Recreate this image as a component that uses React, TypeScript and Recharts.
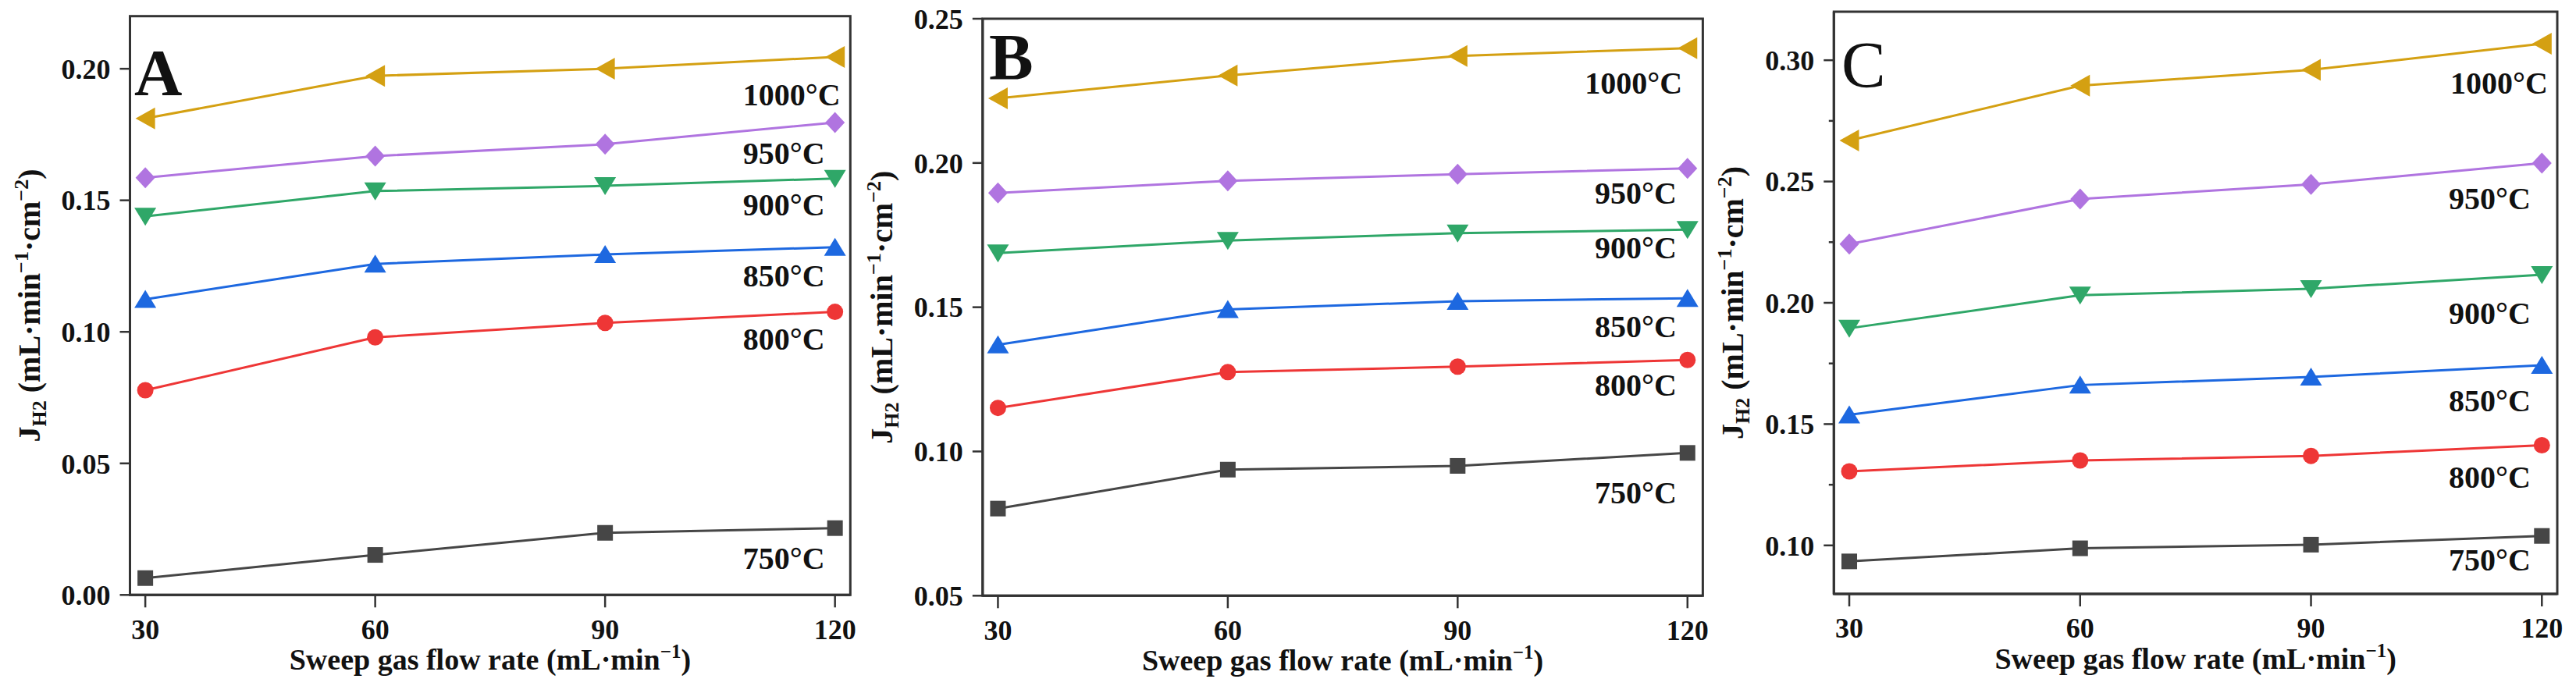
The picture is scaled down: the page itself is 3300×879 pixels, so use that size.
import React from 'react'
import { LineChart, Line, XAxis, YAxis, ReferenceDot } from 'recharts'

const flowRates = [30, 60, 90, 120]
const temperatures = ['750°C', '800°C', '850°C', '900°C', '950°C', '1000°C']

// J_H2, one row per temperature (750 -> 1000 °C)
const fluxA = [
  [0.0064, 0.0152, 0.0236, 0.0254],
  [0.0778, 0.0979, 0.1034, 0.1076],
  [0.1124, 0.1258, 0.1294, 0.1322],
  [0.1439, 0.1535, 0.1555, 0.1583],
  [0.1586, 0.1668, 0.1713, 0.1796],
  [0.1811, 0.1973, 0.2, 0.2045],
]
const fluxB = [
  [0.0802, 0.0937, 0.095, 0.0995],
  [0.1151, 0.1275, 0.1294, 0.1317],
  [0.137, 0.1492, 0.1521, 0.1531],
  [0.1688, 0.1731, 0.1757, 0.1769],
  [0.1896, 0.1938, 0.1961, 0.1981],
  [0.2224, 0.2303, 0.2371, 0.2398],
]
const fluxC = [
  [0.0934, 0.0988, 0.1003, 0.1039],
  [0.1305, 0.135, 0.1369, 0.1413],
  [0.1538, 0.1661, 0.1694, 0.1743],
  [0.1895, 0.2031, 0.2058, 0.2116],
  [0.2242, 0.2428, 0.2488, 0.2576],
  [0.2669, 0.2895, 0.296, 0.3068],
]

const xTicks = [30, 60, 90, 120]
const yTicksA = [0, 0.05, 0.1, 0.15, 0.2]
const yTicksB = [0.05, 0.1, 0.15, 0.2, 0.25]
const yTicksC = [0.1, 0.125, 0.15, 0.175, 0.2, 0.225, 0.25, 0.275, 0.3]

// anchor of each temperature tag, in data units
const tagXA = [108, 108, 108, 108, 108, 108]
const tagYA = [0.01, 0.0932, 0.1173, 0.1443, 0.1638, 0.1862]
const tagXB = [107.9, 107.9, 107.9, 107.9, 107.9, 106.6]
const tagYB = [0.0821, 0.1193, 0.1397, 0.167, 0.186, 0.2239]
const tagXC = [107.9, 107.9, 107.9, 107.9, 107.9, 108.1]
const tagYC = [0.0895, 0.1238, 0.1553, 0.1914, 0.2386, 0.2861]

const colors = ['#464646', '#EE3636', '#1D68E0', '#2FA768', '#B074E0', '#D4A012']
const shapes = ['square', 'circle', 'up', 'down', 'diamond', 'left']

const serif = "'Liberation Serif', 'Times New Roman', serif"
const ink = '#111'
const frame = '#333'
const W = 1100
const H = 879

function Marker({ cx, cy, shape, color }: any) {
  if (cx == null || cy == null) return null
  switch (shape) {
    case 'square':
      return <rect x={cx - 10} y={cy - 10} width={20} height={20} fill={color} />
    case 'circle':
      return <circle cx={cx} cy={cy} r={10.5} fill={color} />
    case 'up':
      return <polygon points={`${cx},${cy - 12} ${cx + 14},${cy + 11} ${cx - 14},${cy + 11}`} fill={color} />
    case 'down':
      return <polygon points={`${cx},${cy + 12} ${cx + 14},${cy - 11} ${cx - 14},${cy - 11}`} fill={color} />
    case 'diamond':
      return <polygon points={`${cx},${cy - 13.5} ${cx + 12.5},${cy} ${cx},${cy + 13.5} ${cx - 12.5},${cy}`} fill={color} />
    default:
      return <polygon points={`${cx - 12.5},${cy} ${cx + 12.5},${cy - 14} ${cx + 12.5},${cy + 14}`} fill={color} />
  }
}

function YTick({ x, y, payload }: any) {
  const v = payload.value
  const major = Math.round(v * 1000) % 50 === 0
  const axisX = x + 13 + 12
  return (
    <g>
      <line x1={axisX - (major ? 13 : 6.5)} x2={axisX} y1={y} y2={y} stroke={frame} strokeWidth={2.5} />
      {major && (
        <text x={x} y={y} dy="0.355em" textAnchor="end" fontFamily={serif} fontWeight={700} fontSize={36} fill={ink}>
          {v.toFixed(2)}
        </text>
      )}
    </g>
  )
}

function YTitle({ viewBox }: any) {
  const bx = viewBox.x + viewBox.width - 116
  const cy = viewBox.y + viewBox.height / 2
  return (
    <text x={bx} y={cy} transform={`rotate(-90, ${bx}, ${cy})`} textAnchor="middle"
      fontFamily={serif} fontWeight={700} fontSize={40} fill={ink}>
      <tspan>J</tspan>
      <tspan fontSize={26} dy={8}>H2</tspan>
      <tspan dy={-8}> (mL·min</tspan>
      <tspan fontSize={26} dy={-15}>−1</tspan>
      <tspan dy={15}>·cm</tspan>
      <tspan fontSize={26} dy={-15}>−2</tspan>
      <tspan dy={15}>)</tspan>
    </text>
  )
}

function XTitle({ viewBox }: any) {
  const cx = viewBox.x + viewBox.width / 2
  const by = viewBox.y + 95.7
  return (
    <text x={cx} y={by} textAnchor="middle" fontFamily={serif} fontWeight={700} fontSize={38} fill={ink}>
      <tspan>Sweep gas flow rate (mL·min</tspan>
      <tspan fontSize={25} dy={-15}>−1</tspan>
      <tspan dy={15}>)</tspan>
    </text>
  )
}

function tagContent(text: string) {
  return ({ viewBox }: any) => (
    <text x={viewBox.x + 1} y={viewBox.y + 1} fontFamily={serif} fontWeight={700} fontSize={40} fill={ink}>
      {text}
    </text>
  )
}

type PanelProps = {
  left: number
  yWidth: number
  right: number
  top: number
  xHeight: number
  yDomain: [number, number]
  yTicks: number[]
  flux: number[][]
  tagX: number[]
  tagY: number[]
  letter: string
  letterX: number
  letterY: number
  letterWeight: number
}

function Panel(p: PanelProps) {
  const rows = flowRates.map((x, i) => {
    const row: any = { x }
    p.flux.forEach((s, k) => { row['t' + k] = s[i] })
    return row
  })
  // plot box, used only for the closed frame around it
  const bx = p.yWidth
  const by = p.top
  const bw = W - p.right - p.yWidth
  const bh = H - p.xHeight - p.top
  return (
    <div style={{ position: 'absolute', left: p.left, top: 0, width: W, height: H }}>
      <LineChart width={W} height={H} data={rows} margin={{ top: p.top, right: p.right, bottom: 0, left: 0 }}>
        <XAxis dataKey="x" type="number" domain={[28, 122]} ticks={xTicks} allowDataOverflow
          height={p.xHeight} tickSize={16} tickMargin={14.7}
          axisLine={{ stroke: frame, strokeWidth: 3 }} tickLine={{ stroke: frame, strokeWidth: 2.5 }}
          tick={{ fontFamily: serif, fontWeight: 700, fontSize: 36, fill: ink }}
          label={{ content: XTitle }} />
        <YAxis type="number" domain={p.yDomain} ticks={p.yTicks} allowDataOverflow width={p.yWidth}
          tickSize={13} tickMargin={12} tickLine={false} interval={0}
          axisLine={{ stroke: frame, strokeWidth: 3 }} tick={<YTick />}
          label={{ content: YTitle }} />
        {temperatures.map((t, k) => (
          <Line key={t} type="linear" dataKey={'t' + k} name={t} stroke={colors[k]} strokeWidth={3}
            isAnimationActive={false} activeDot={false}
            dot={(d: any) => <Marker key={t + d.index} cx={d.cx} cy={d.cy} shape={shapes[k]} color={colors[k]} />} />
        ))}
        {temperatures.map((t, k) => (
          <ReferenceDot key={'tag' + t} x={p.tagX[k]} y={p.tagY[k]} r={1} fill="none" stroke="none"
            ifOverflow="visible" label={{ content: tagContent(t) }} />
        ))}
      </LineChart>
      <svg width={W} height={H} style={{ position: 'absolute', left: 0, top: 0, pointerEvents: 'none' }}>
        <rect x={bx} y={by} width={bw} height={bh} fill="none" stroke={frame} strokeWidth={3} />
        <text x={p.letterX} y={p.letterY} fontFamily={serif} fontWeight={p.letterWeight} fontSize={85} fill={ink}>
          {p.letter}
        </text>
      </svg>
    </div>
  )
}

export default function App() {
  return (
    <div style={{ position: 'absolute', left: 0, top: 0, width: 3300, height: 879, background: '#fff', overflow: 'hidden' }}>
      <Panel left={0} yWidth={166.5} right={10.7} top={20.7} xHeight={116.7} yDomain={[0, 0.22]} yTicks={yTicksA}
        flux={fluxA} tagX={tagXA} tagY={tagYA} letter="A" letterX={172} letterY={122} letterWeight={700} />
      <Panel left={1100} yWidth={158.8} right={18.6} top={24} xHeight={115.7} yDomain={[0.05, 0.25]} yTicks={yTicksB}
        flux={fluxB} tagX={tagXB} tagY={tagYB} letter="B" letterX={167} letterY={102} letterWeight={700} />
      <Panel left={2200} yWidth={149.3} right={24} top={15} xHeight={118} yDomain={[0.08, 0.32]} yTicks={yTicksC}
        flux={fluxC} tagX={tagXC} tagY={tagYC} letter="C" letterX={159} letterY={112} letterWeight={400} />
    </div>
  )
}
